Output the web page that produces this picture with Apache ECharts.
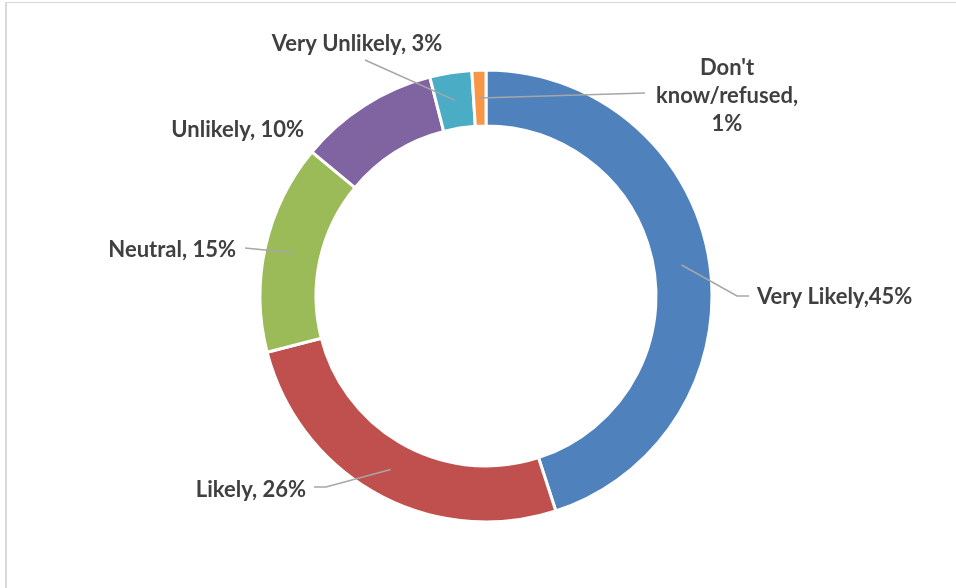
<!DOCTYPE html>
<html>
<head>
<meta charset="utf-8">
<script src="https://cdn.jsdelivr.net/npm/echarts@6/dist/echarts.min.js"></script>
<style>
  html, body { margin: 0; padding: 0; background: #fff; }
  #frame { position: absolute; left: 5px; top: 2px; width: 960px; height: 600px;
           border-left: 2px solid #D9D9D9; border-top: 1px solid #D9D9D9; }
  #chart { position: absolute; left: 0; top: 0; width: 956px; height: 588px; }
</style>
</head>
<body>
<div id="frame"></div>
<div id="chart"></div>
<script>
const categories = ['Very Likely', 'Likely', 'Neutral', 'Unlikely', 'Very Unlikely', "Don't know/refused"];
const values = [45, 26, 15, 10, 3, 1];
const labelTexts = ['Very Likely,45%', 'Likely, 26%', 'Neutral, 15%', 'Unlikely, 10%', 'Very Unlikely, 3%', "Don't\nknow/refused,\n1%"];
const colors = ['#4F81BD', '#C0504D', '#9BBB59', '#8064A2', '#4BACC6', '#F79646'];

// label placement (layout only)
const placement = [
  { x: 757, y: 297, align: 'left',   line: [[737, 296], [749, 296]] },
  { x: 306, y: 490, align: 'right',  line: [[326, 487], [314, 487]] },
  { x: 236, y: 250, align: 'right',  line: [[245, 248]] },
  { x: 304, y: 130, align: 'right',  line: null },
  { x: 357, y: 44,  align: 'center', line: [[365, 60]] },
  { x: 727, y: 96,  align: 'center', line: [[645, 93]] }
];

const chart = echarts.init(document.getElementById('chart'), null, { renderer: 'canvas' });

const ringData = categories.map((c, i) => ({ name: c, value: values[i], itemStyle: { color: colors[i] } }));
const labelData = categories.map((c, i) => ({
  name: c, value: values[i],
  label: { formatter: labelTexts[i] },
  labelLine: { show: placement[i].line !== null }
}));

chart.setOption({
  animation: false,
  series: [
    {
      type: 'pie',
      center: [486, 296],
      radius: [170, 226],
      startAngle: 90,
      clockwise: true,
      silent: true,
      label: { show: false },
      labelLine: { show: false },
      itemStyle: { borderColor: '#ffffff', borderWidth: 3 },
      data: ringData
    },
    {
      type: 'pie',
      center: [486, 296],
      radius: [0, 198],
      startAngle: 90,
      clockwise: true,
      silent: true,
      z: 5,
      avoidLabelOverlap: false,
      itemStyle: { color: 'rgba(0,0,0,0)', borderWidth: 0 },
      label: {
        show: true,
        position: 'outside',
        fontFamily: 'Lato',
        fontWeight: 'bold',
        fontSize: 22,
        color: '#404040',
        lineHeight: 28
      },
      labelLine: { show: true, lineStyle: { color: '#A6A6A6', width: 1.5 } },
      labelLayout: function (p) {
        const pl = placement[p.dataIndex];
        const res = { x: pl.x, y: pl.y, align: pl.align, verticalAlign: 'middle' };
        if (pl.line && p.labelLinePoints) {
          res.labelLinePoints = [p.labelLinePoints[0]].concat(pl.line);
        }
        return res;
      },
      data: labelData
    }
  ]
});
</script>
</body>
</html>
